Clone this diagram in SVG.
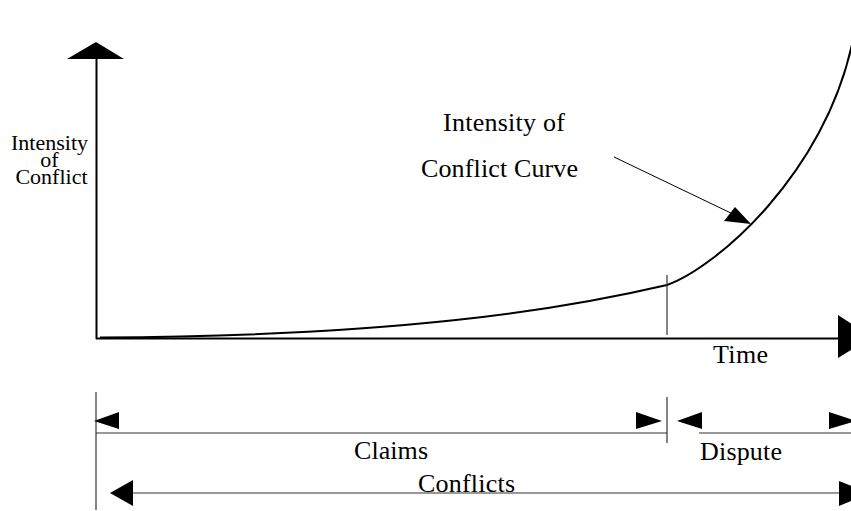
<svg xmlns="http://www.w3.org/2000/svg" width="851" height="511" viewBox="0 0 851 511">
  <style>
    .lbl { font-family: "Liberation Serif", "Times New Roman", serif; fill: #000; }
    .axis { stroke: #000; stroke-width: 2; fill: none; }
    .dim { stroke: #333; stroke-width: 1.2; fill: none; }
    .head { fill: #000; stroke: none; }
  </style>
  <rect width="851" height="511" fill="#fff"/>

  <!-- axes -->
  <g id="axes">
    <line class="axis" x1="96.5" y1="58" x2="96.5" y2="339"/>
    <polygon class="head" points="96,42 124,59 67,59"/>
    <line class="axis" x1="96" y1="338.5" x2="840" y2="338.5"/>
    <polygon class="head" points="838,315 872,337 838,358"/>
  </g>

  <!-- stacked axis caption, tightly leaded -->
  <g id="y-label">
    <text class="lbl" x="49.5" y="150" font-size="22" text-anchor="middle">Intensity</text>
    <text class="lbl" x="49.5" y="167" font-size="22" text-anchor="middle">of</text>
    <text class="lbl" x="51.5" y="184" font-size="22" text-anchor="middle">Conflict</text>
  </g>

  <g id="x-label">
    <text class="lbl" x="713" y="363" font-size="26" textLength="55">Time</text>
  </g>

  <!-- intensity curve -->
  <g id="curve">
    <path d="M100,337.5 C400,336 560,310 667,285 C715,268 825,175 853,40" stroke="#000" stroke-width="2" fill="none"/>
    <line x1="667" y1="275" x2="667" y2="335" stroke="#333" stroke-width="1.2"/>
  </g>

  <g id="curve-label">
    <text class="lbl" x="443" y="131" font-size="26" textLength="122">Intensity of</text>
    <text class="lbl" x="421" y="177" font-size="26" textLength="157">Conflict Curve</text>
  </g>

  <!-- connectors -->
  <g id="connectors">
    <line x1="614" y1="157" x2="735" y2="215" stroke="#000" stroke-width="1"/>
    <polygon class="head" points="751,224 724,221 735,207"/>
  </g>

  <!-- span markers below the time axis -->
  <g id="spans">
    <line class="dim" x1="96" y1="392" x2="96" y2="510"/>
    <line class="dim" x1="667" y1="397" x2="667" y2="443"/>
  </g>

  <g id="claims">
    <line class="dim" x1="96" y1="433" x2="667" y2="433"/>
    <polygon class="head" points="94,421 119,412 119,429"/>
    <polygon class="head" points="662,421 636,412 636,429"/>
    <text class="lbl" x="354" y="459" font-size="26" textLength="74">Claims</text>
  </g>

  <g id="dispute">
    <line class="dim" x1="699" y1="433" x2="851" y2="433"/>
    <polygon class="head" points="677,421 702,412 702,429"/>
    <polygon class="head" points="856,421 829,412 829,429"/>
    <text class="lbl" x="700" y="460" font-size="26" textLength="82">Dispute</text>
  </g>

  <g id="conflicts">
    <line class="dim" x1="130" y1="493" x2="840" y2="493"/>
    <polygon class="head" points="110,493 133,480 133,506"/>
    <polygon class="head" points="870,493 839,481 839,506"/>
    <text class="lbl" x="418" y="492" font-size="26" textLength="97">Conflicts</text>
  </g>
</svg>
